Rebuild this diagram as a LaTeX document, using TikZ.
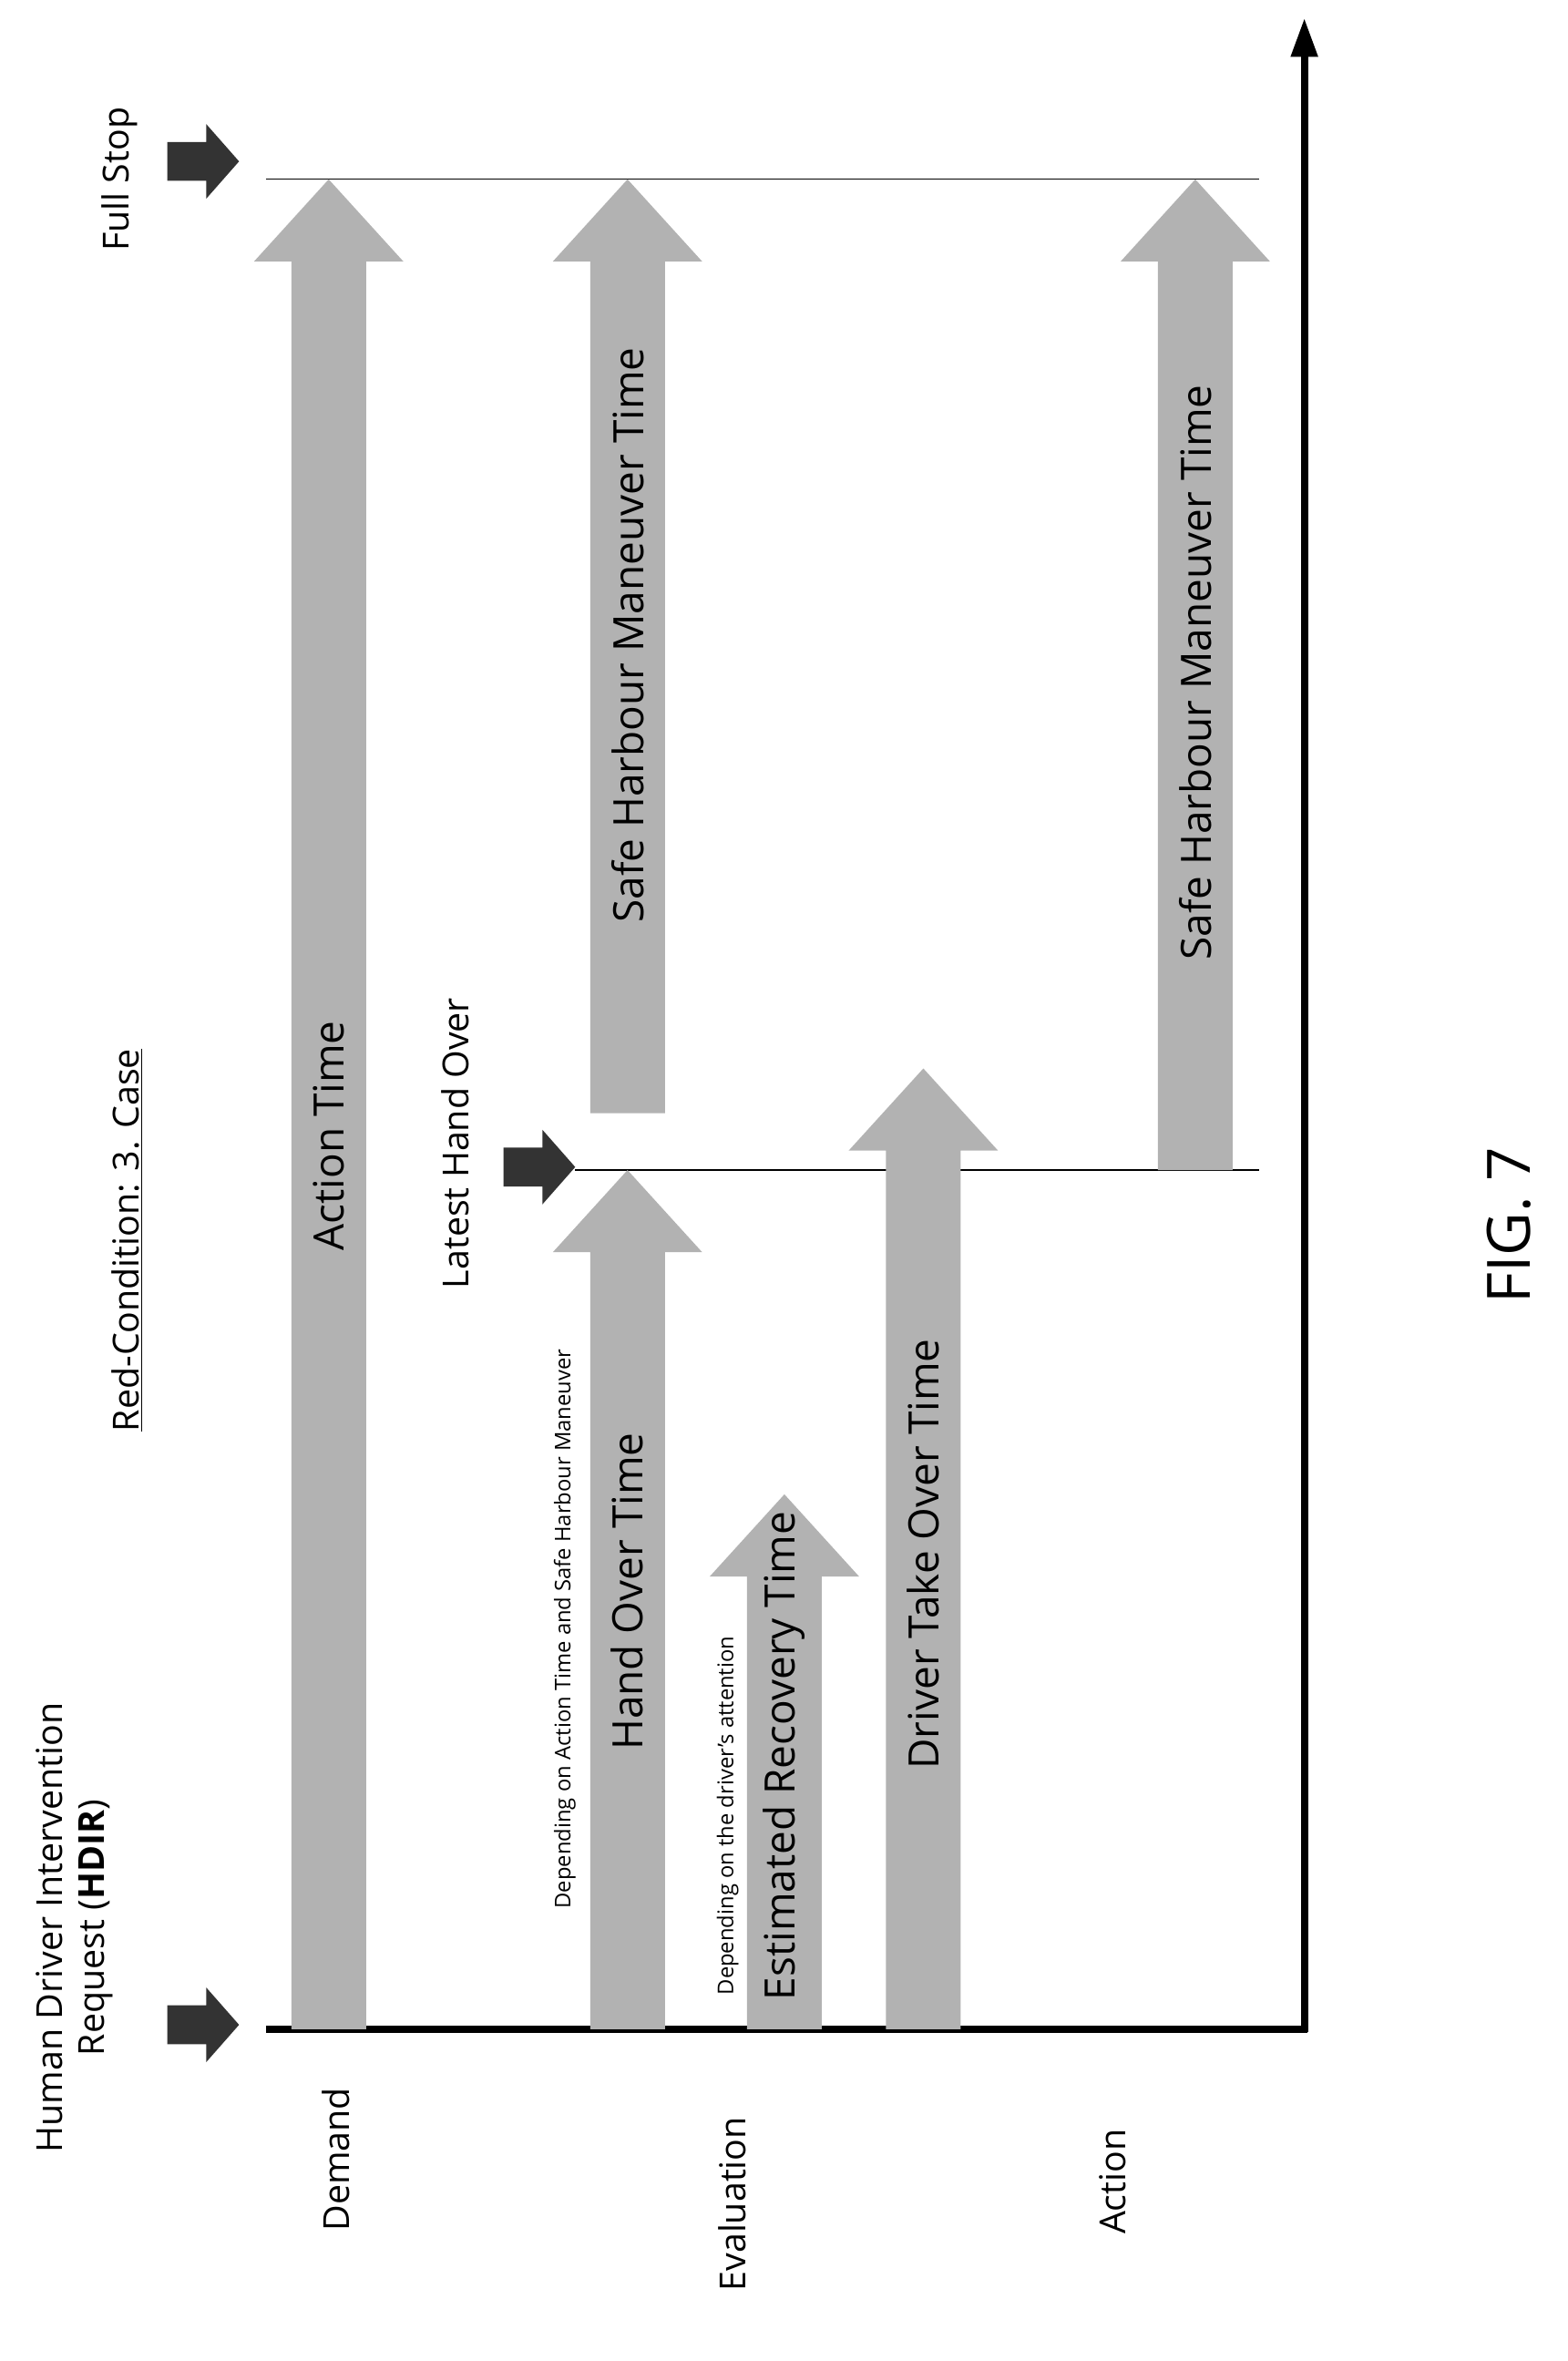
\documentclass[tikz,border=0pt]{standalone}
\usepackage{fontspec}
\setmainfont{Open Sans}
\usetikzlibrary{arrows.meta}
\newcommand\garrow[4]{% center, base, tip, half head width
  \fill[barfill] (#1-#4/2,#2) -- (#1-#4/2,#3+55) -- (#1-#4,#3+55) -- (#1,#3)
    -- (#1+#4,#3+55) -- (#1+#4/2,#3+55) -- (#1+#4/2,#2) -- cycle;}
\newcommand\barrow[2]{% tip x, y
  \fill[black!80] (#1-48,#2-13) -- (#1-22,#2-13) -- (#1-22,#2-25) -- (#1,#2)
    -- (#1-22,#2+25) -- (#1-22,#2+13) -- (#1-48,#2+13) -- cycle;}
\begin{document}
\begin{tikzpicture}[x=1pt,y=-1pt,
  barfill/.style={fill=black!30},
  lbl/.style={rotate=90,font=\fontsize{28}{30}\selectfont},
  small/.style={rotate=90,font=\fontsize{14.5}{16}\selectfont},
  axis/.style={rotate=90,font=\fontsize{24}{28}\selectfont}]
\useasboundingbox (0,0) rectangle (1049,1580);
%%% time axis
\draw[line width=5pt] (178,1358) -- (875,1358);
\draw[line width=5pt,-{Triangle[length=26pt,width=17pt]}] (873,1360) -- (873,12);
\draw[line width=0.8pt] (178,120) -- (843,120);
\draw[line width=0.8pt] (385,783) -- (843,783);
%%% bars
\garrow{220}{1358}{120}{50}
\garrow{420}{1358}{783}{50}
\garrow{525}{1358}{1000}{50}
\garrow{618}{1358}{715}{50}
\garrow{420}{745}{120}{50}
\garrow{800}{783}{120}{50}
\barrow{160}{1355}
\barrow{385}{781}
\barrow{160}{108}
%%% texts
\node[lbl] (act) at (220,760) {Action Time};
\node[lbl] (hand) at (420,1065) {Hand Over Time};
\node[lbl] (rec) at (525,1175) {Estimated Recovery Time};
\node[lbl] (take) at (618,1040) {Driver Take Over Time};
\node[lbl] (safe1) at (420,425) {Safe Harbour Maneuver Time};
\node[lbl] (safe2) at (800,450) {Safe Harbour Maneuver Time};
\node[small] (dep1) at (378,1090) {Depending on Action Time and Safe Harbour Maneuver};
\node[small] (dep2) at (487,1215) {Depending on the driver's attention};
\node[axis,align=center] (hdir) at (50,1290) {Human Driver Intervention\\Request (\textbf{HDIR})};
\node[axis] (dem) at (225,1445) {Demand};
\node[axis] (eva) at (490,1475) {Evaluation};
\node[axis] (acn) at (745,1460) {Action};
\node[axis] (red) at (85,830) {\underline{Red-Condition: 3. Case}};
\node[axis] (late) at (305,765) {Latest Hand Over};
\node[axis] (full) at (80,120) {Full Stop};
\node[rotate=90,font=\fontsize{40}{44}\selectfont] (fig) at (1010,820) {FIG. 7};
\end{tikzpicture}
\end{document}
